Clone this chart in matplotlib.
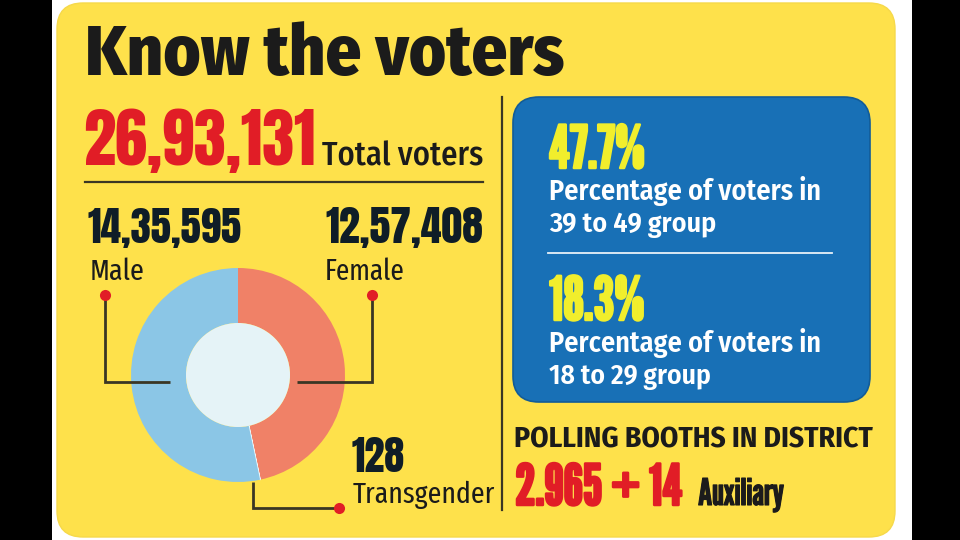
import matplotlib
matplotlib.use('Agg')
import matplotlib.pyplot as plt
import matplotlib.patheffects as pe
from matplotlib.patches import FancyBboxPatch, Rectangle, Circle

# ---- data ----------------------------------------------------------
title = 'Know the voters'
total_voters = '26,93,131'
gender_labels = ['Female', 'Transgender', 'Male']
gender_counts = [1257408, 128, 1435595]
gender_text = ['12,57,408', '128', '14,35,595']
age_pct = ['47.7%', '18.3%']
age_desc = [('Percentage of voters in', '39 to 49 group'),
            ('Percentage of voters in', '18 to 29 group')]
booths_title = 'POLLING BOOTHS IN DISTRICT'
booths_main = '2.965 + 14'
booths_aux = 'Auxiliary'

# ---- style ---------------------------------------------------------
YELLOW = '#FEE14B'
BLUE = '#1870B6'
RED = '#E11D26'
INK = '#1B1B1B'
NAVY = '#0F1D27'
LINE = '#3A3624'
PCT_YELLOW = '#F1EE2C'
COLORS = {'Female': '#F08167', 'Transgender': '#EEF6F8', 'Male': '#8BC6E6'}

HEAD = ['Fira Sans Condensed', 'Roboto Condensed', 'DejaVu Sans']
NUM = ['Anton', 'Oswald', 'Roboto Condensed', 'DejaVu Sans']
TALL = ['League Gothic', 'Anton', 'Roboto Condensed', 'DejaVu Sans']
BODY = ['Fira Sans Condensed', 'Roboto Condensed', 'DejaVu Sans']
LIGHT = ['Fira Sans Extra Condensed', 'Roboto Condensed', 'DejaVu Sans']

fig = plt.figure(figsize=(9.6, 5.4), dpi=100, facecolor='black')
renderer = fig.canvas.get_renderer()


def pixel_axes(z):
    a = fig.add_axes([0, 0, 1, 1], zorder=z)
    a.set_xlim(0, 960)
    a.set_ylim(540, 0)
    a.axis('off')
    a.patch.set_alpha(0)
    return a


def fit_text(ax, x, y, s, width, heavy=0, **kw):
    # draw text left/baseline aligned and scale it to the width seen in the print
    t = ax.text(x, y, s, fontsize=20, ha='left', va='baseline', **kw)
    w = t.get_window_extent(renderer=renderer).width
    t.set_fontsize(20 * width / w)
    if heavy:
        # the print face is blacker than League Gothic, thicken it a bit
        t.set_path_effects([pe.withStroke(linewidth=heavy, foreground=kw['color'])])
    return t


# ---- background panels --------------------------------------------
bg = pixel_axes(0)
bg.add_patch(Rectangle((52, 0), 860, 540, color='white', lw=0))
bg.add_patch(FancyBboxPatch((57, 3), 838, 534, boxstyle='round,pad=0,rounding_size=26',
                            fc=YELLOW, ec='#F6D94A', lw=1))
bg.add_patch(FancyBboxPatch((513, 97), 357, 305, boxstyle='round,pad=0,rounding_size=26',
                            fc=BLUE, ec='#125C98', lw=1.2))

# ---- donut ---------------------------------------------------------
cx, cy, r_out, r_in = 238, 375, 107, 52
pie_ax = fig.add_axes([(cx - r_out) / 960, 1 - (cy + r_out) / 540,
                       2 * r_out / 960, 2 * r_out / 540], zorder=1)
wedges, _ = pie_ax.pie(gender_counts, colors=[COLORS[g] for g in gender_labels],
                       startangle=90, counterclock=False, radius=1,
                       wedgeprops={'width': 1 - r_in / r_out, 'linewidth': 0})
wedges[1].set_edgecolor('#EEF6F8')
wedges[1].set_linewidth(1.0)
pie_ax.add_patch(Circle((0, 0), r_in / r_out, fc='#E5F3F7', ec='none'))
pie_ax.set_xlim(-1, 1)
pie_ax.set_ylim(-1, 1)
pie_ax.set_aspect('equal')
pie_ax.axis('off')

# ---- text and leader lines ----------------------------------------
ax = pixel_axes(2)

fit_text(ax, 85, 75, title, 480, color=INK, family=HEAD, weight='heavy')

fit_text(ax, 83, 165, total_voters, 232, color=RED, family=NUM)
fit_text(ax, 322, 165, 'Total voters', 161, color=INK, family=BODY, weight='medium')
ax.plot([85, 483], [182, 182], color=LINE, lw=1.6)

fit_text(ax, 88, 243, gender_text[2], 154, color=NAVY, family=NUM)
fit_text(ax, 325, 243, gender_text[0], 158, color=NAVY, family=NUM)
fit_text(ax, 90, 280, gender_labels[2], 55, color=INK, family=LIGHT)
fit_text(ax, 325, 280, gender_labels[0], 80, color=INK, family=LIGHT)
fit_text(ax, 352, 472, gender_text[1], 53, color=NAVY, family=NUM)
fit_text(ax, 353, 503, gender_labels[1], 142, color=INK, family=LIGHT)

leaders = [([105, 105, 170], [295, 382, 382], (105, 295)),
           ([372, 372, 297], [295, 382, 382], (372, 295)),
           ([253, 253, 339], [482, 508, 508], (339, 508))]
for xs, ys, dot in leaders:
    ax.plot(xs, ys, color=LINE, lw=2, solid_joinstyle='miter', solid_capstyle='butt')
    ax.plot(*dot, 'o', ms=8, color=RED, mec='none')

ax.plot([502, 502], [97, 510], color=LINE, lw=1.6)

# blue box
for (pct, (l1, l2)), base in zip(zip(age_pct, age_desc), [168, 320]):
    fit_text(ax, 549, base, pct, 96, heavy=1.8, color=PCT_YELLOW, family=TALL)
    fit_text(ax, 549, base + 32, l1, 272, color='white', family=BODY, weight='semibold')
    fit_text(ax, 549, base + 64, l2, 167 if '39' in l2 else 162, color='white',
             family=BODY, weight='semibold')
ax.plot([548, 832], [253, 253], color='#E8F1F8', lw=1.3)

fit_text(ax, 514, 447, booths_title, 359, color=INK, family=HEAD, weight='bold')
fit_text(ax, 515, 505, booths_main, 168, heavy=1.8, color=RED, family=TALL)
fit_text(ax, 698, 505, booths_aux, 86, heavy=0.8, color=INK, family=TALL)

fig.savefig('out.png', dpi=100, facecolor='black')
